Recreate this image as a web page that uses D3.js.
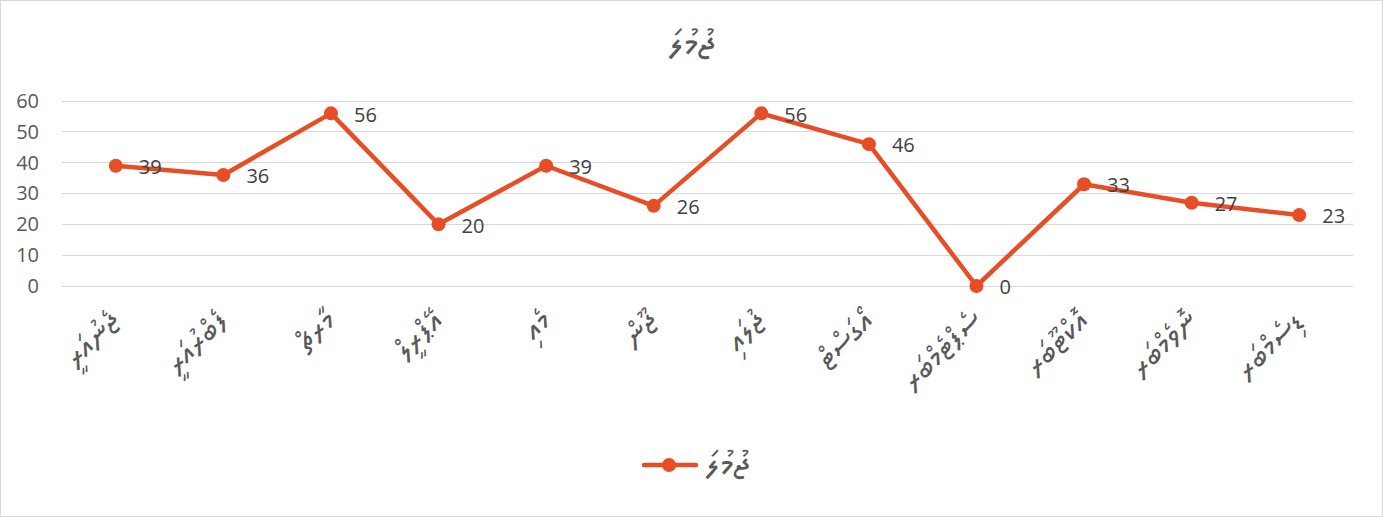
<!DOCTYPE html>
<html><head><meta charset="utf-8">
<script src="https://cdn.jsdelivr.net/npm/d3@7"></script>
<style>
html,body{margin:0;padding:0;background:#fff;}
svg{display:block;}
.thaana{font-family:"MV Boli","Noto Sans Thaana","DejaVu Sans",sans-serif;}
</style></head>
<body>
<script>
const categories = ["ޖެނުއަރީ","ފެބްރުއަރީ","މާރޗް","އޭޕްރީލް","މެއި","ޖޫން","ޖުލައި","އޯގަސްޓް","ސެޕްޓެމްބަރ","އޮކްޓޫބަރ","ނޮވެމްބަރ","ޑިސެމްބަރ"];
const values = [39,36,56,20,39,26,56,46,0,33,27,23];
const yTicks = [0,10,20,30,40,50,60];
const seriesName = "ޖުމުލަ";
const title = "ޖުމުލަ";

const W = 1383, H = 517;
const color = "#E84E25";
const numFont = "'Open Sans', 'Noto Sans', sans-serif";
const svg = d3.select("body").append("svg").attr("width", W).attr("height", H);
svg.append("rect").attr("x",0.5).attr("y",0.5).attr("width",W-1).attr("height",H-1)
  .attr("fill","#fff").attr("stroke","#D9D9D9");

const x = d3.scaleBand().domain(categories).range([62,1353]);
const y = d3.scaleLinear().domain([0,60]).range([286,101]);

svg.append("g").selectAll("line").data(yTicks).join("line")
  .attr("x1",62).attr("x2",1353).attr("y1",d=>y(d)).attr("y2",d=>y(d))
  .attr("stroke","#D9D9D9").attr("stroke-width",1).attr("shape-rendering","crispEdges");

const yAxis = d3.axisLeft(y).tickValues(yTicks).tickSize(0).tickPadding(0);
const gy = svg.append("g").attr("transform","translate(39,0)").call(yAxis);
gy.select(".domain").remove();
gy.selectAll("text").attr("font-family",numFont)
  .attr("font-size",20).attr("fill","#595959");

const gx = svg.append("g");
categories.forEach(c=>{
  const cx = x(c)+x.bandwidth()/2;
  gx.append("text").attr("class","thaana")
    .attr("transform",`translate(${cx-10},${306}) rotate(-45)`)
    .attr("text-anchor","end").attr("dy","0.75em")
    .attr("font-size",32).attr("fill","#595959")
    .text(c);
});

const line = d3.line().x((d,i)=>x(categories[i])+x.bandwidth()/2).y(d=>y(d));
svg.append("path").datum(values).attr("d",line).attr("fill","none")
  .attr("stroke",color).attr("stroke-width",4.5).attr("stroke-linejoin","round").attr("stroke-linecap","round");
svg.append("g").selectAll("circle").data(values).join("circle")
  .attr("cx",(d,i)=>x(categories[i])+x.bandwidth()/2).attr("cy",d=>y(d)).attr("r",7)
  .attr("fill",color);

svg.append("g").selectAll("text").data(values).join("text")
  .attr("x",(d,i)=>x(categories[i])+x.bandwidth()/2+23).attr("y",d=>y(d)+1)
  .attr("dy","0.36em")
  .attr("font-family",numFont)
  .attr("font-size",20).attr("fill","#404040").text(d=>d);

svg.append("text").attr("class","thaana").attr("x",692).attr("y",56).attr("text-anchor","middle")
  .attr("font-size",38).attr("fill","#595959").text(title);

svg.append("line").attr("x1",644).attr("x2",696).attr("y1",465).attr("y2",465)
  .attr("stroke",color).attr("stroke-width",4.5).attr("stroke-linecap","round");
svg.append("circle").attr("cx",669).attr("cy",465).attr("r",7).attr("fill",color);
svg.append("text").attr("class","thaana").attr("x",705).attr("y",476)
  .attr("font-size",36).attr("fill","#595959").text(seriesName);
</script>
</body></html>
